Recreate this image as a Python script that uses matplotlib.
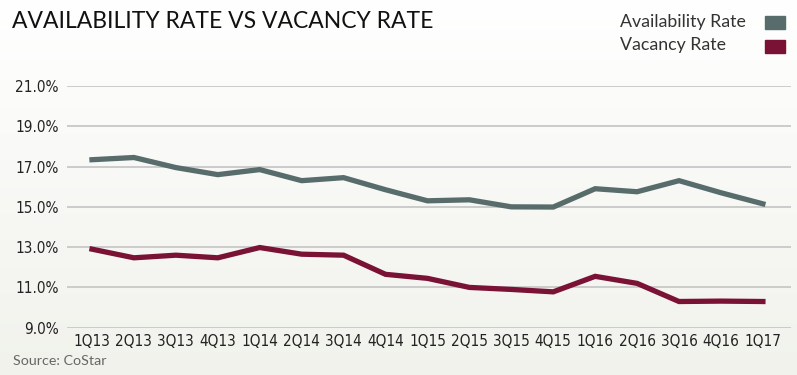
import matplotlib.pyplot as plt
import numpy as np

quarters = ['1Q13', '2Q13', '3Q13', '4Q13', '1Q14', '2Q14', '3Q14', '4Q14', '1Q15',
            '2Q15', '3Q15', '4Q15', '1Q16', '2Q16', '3Q16', '4Q16', '1Q17']
availability = [17.34, 17.45, 16.95, 16.6, 16.85, 16.3, 16.45, 15.85, 15.3,
                15.35, 15.0, 14.99, 15.9, 15.75, 16.3, 15.7, 15.15]
vacancy = [12.9, 12.47, 12.6, 12.47, 12.98, 12.65, 12.6, 11.65, 11.45,
           11.0, 10.9, 10.78, 11.55, 11.2, 10.3, 10.32, 10.3]
yticks = [9, 11, 13, 15, 17, 19, 21]

avail_color = '#586d6b'
vac_color = '#7a1236'

fig = plt.figure(figsize=(7.97, 3.75), dpi=100)

# background gradient, white at top to a pale greenish grey at the bottom
bg = fig.add_axes([0, 0, 1, 1], zorder=-1)
grad = np.linspace(0, 1, 256).reshape(-1, 1)
top = np.array([1.0, 1.0, 1.0])
bot = np.array([0.945, 0.950, 0.925])
img = top + (bot - top) * grad[..., None]
bg.imshow(img, aspect='auto', extent=[0, 1, 0, 1], origin='upper')
bg.axis('off')

ax = fig.add_axes([67 / 797, 1 - 327.7 / 375, (791 - 67) / 797, (327.7 - 86) / 375])
ax.patch.set_alpha(0)
x = np.arange(len(quarters))
ax.plot(x, availability, color=avail_color, lw=3.8, solid_joinstyle='miter', clip_on=False)
ax.plot(x, vacancy, color=vac_color, lw=3.8, solid_joinstyle='miter', clip_on=False)

tick_font = dict(family='DejaVu Sans', stretch='condensed', fontsize=11)
ax.set_ylim(9, 21)
ax.set_xlim(-0.596, 16.67)
ax.set_yticks(yticks)
ax.set_yticklabels([f'{v:.1f}%' for v in yticks], **tick_font)
ax.set_xticks(x)
ax.set_xticklabels(quarters, **tick_font)
ax.grid(axis='y', color='#c8c8c8', lw=1.3)
ax.set_axisbelow(True)
for s in ax.spines.values():
    s.set_visible(False)
ax.tick_params(length=0, colors='#222222')
ax.tick_params(axis='y', pad=6)
ax.tick_params(axis='x', pad=4.5)

fig.text(12 / 797, 1 - 22 / 375, 'AVAILABILITY RATE VS VACANCY RATE', family='Lato',
         fontsize=16.5, va='center', ha='left', color='#111111')
fig.text(620 / 797, 1 - 22 / 375, 'Availability Rate', family='Lato', fontsize=12.8,
         va='center', ha='left', color='#333333')
fig.text(620 / 797, 1 - 45 / 375, 'Vacancy Rate', family='Lato', fontsize=12.8,
         va='center', ha='left', color='#333333')
fig.patches.append(plt.Rectangle((765 / 797, 1 - 29 / 375), 20 / 797, 13 / 375,
                                 transform=fig.transFigure, color=avail_color))
fig.patches.append(plt.Rectangle((765 / 797, 1 - 53 / 375), 20 / 797, 13 / 375,
                                 transform=fig.transFigure, color=vac_color))
fig.text(13 / 797, 1 - 361 / 375, 'Source: CoStar', family='Lato', fontsize=10.3,
         va='center', ha='left', color='#666666')

fig.savefig('out.png', dpi=100)
